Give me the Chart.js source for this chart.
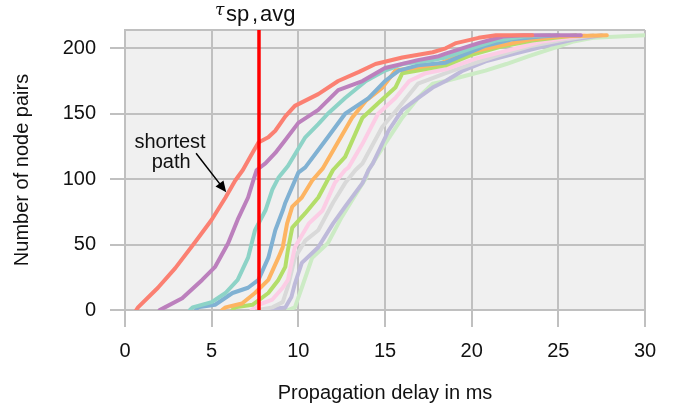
<!DOCTYPE html>
<html>
<head>
<meta charset="utf-8">
<script src="https://cdn.jsdelivr.net/npm/chart.js@4"></script>
<style>
  html, body { margin: 0; padding: 0; background: #fff; }
  #wrap { width: 681px; height: 408px; }
</style>
</head>
<body>
<div id="wrap"><canvas id="myChart" width="681" height="408"></canvas></div>
<script>
// delay (ms) / number of node pairs
const shortestPath = [[0.65,0],[0.75,2],[1.9,17],[2.9,32],[4.05,52],[5.0,69],[5.8,86],[6.36,99],[6.8,107],[7.35,120],[7.7,128],[8.27,132],[8.67,137],[9.25,148],[9.8,156],[11.15,165],[12.3,175],[13.5,182],[14.45,188],[16.0,193],[17.75,197],[18.5,200],[19.1,204],[20.4,208],[21.4,210],[23.5,210]];
const path2 = [[2.0,0],[2.3,2],[3.3,9],[4.45,23],[5.2,33],[5.95,51],[6.5,69],[7.1,86],[7.4,99],[7.6,107],[8.1,112],[8.67,120],[9.25,130],[10,143],[11.15,153],[12.3,168],[13.7,175],[15,185],[16.9,191],[18.1,194],[18.5,196],[20.4,204],[21.8,209],[23,210],[26.3,210]];
const path3 = [[3.75,0],[3.9,2],[5,6],[5.8,13],[6.5,23],[7.1,40],[7.5,61],[8.1,76],[8.5,92],[8.85,101],[9.4,110],[10.4,132],[11.15,142],[11.7,150],[12.7,162],[13.9,175],[15,183],[16,188],[17.75,191],[18.5,193],[20.2,201],[21.4,206],[23,209],[24.5,210]];
const path4 = [[4.1,0],[4.2,2],[5.2,4],[6.2,13],[7.1,17],[7.7,23],[8.27,40],[8.67,61],[9.1,76],[9.25,82],[10,105],[10.4,109],[11.7,132],[12.7,150],[14.05,162],[15,175],[15.8,183],[16.9,187],[18.5,189],[20.8,202],[22.4,207],[24,209],[25,210]];
const path5 = [[5.6,0],[5.8,2],[6.75,5],[7.5,13],[8.27,23],[8.85,40],[9.1,48],[9.35,66],[9.65,79],[10.2,86],[10.8,99],[11.4,108],[12.1,124],[13.1,147],[13.9,160],[14.85,170],[15.6,183],[16.6,185],[18.1,188],[19.5,196],[21.6,202],[23.5,207],[25,209],[27.8,210]];
const path6 = [[6.2,0],[6.35,2],[7.35,4],[8.27,13],[8.85,23],[9.25,33],[9.4,46],[9.65,63],[10.4,74],[11.15,86],[12,107],[12.7,117],[13.7,147],[14.6,158],[15.6,170],[16,181],[16.9,183],[18.5,187],[20,195],[21.6,201],[23.5,206],[26,210]];
const path7 = [[7.3,0],[7.7,4],[8.5,8],[9.1,17],[9.4,23],[9.8,48],[10.6,66],[11.4,76],[12.1,97],[12.7,107],[12.9,109],[13.7,127],[14.6,150],[15.6,162],[16.4,175],[17.35,181],[18.5,184],[20.2,192],[22,198],[24,205],[26.5,210]];
const path8 = [[7.7,0],[8.5,2],[9.1,6],[9.4,18],[9.8,40],[10.4,53],[11.15,61],[12,82],[12.7,97],[13.3,107],[13.7,112],[14.85,140],[15.8,155],[16.9,173],[17.9,178],[18.5,181],[20,188],[21.4,194],[23.5,202],[25.5,207],[27,210]];
const path9 = [[8.0,0],[9.25,2],[9.6,10],[9.8,20],[10.2,36],[11.15,48],[12,66],[12.7,79],[13.7,97],[14.05,107],[14.3,112],[15.2,137],[16,153],[16.9,162],[17.75,170],[18.5,175],[19.5,183],[20.8,190],[22.5,196],[24.3,202],[26,207],[27.5,210]];
const path10 = [[9.4,0],[9.8,2],[10.2,17],[10.8,40],[11.7,51],[12.5,71],[13.1,84],[13.9,101],[14.05,107],[15,127],[16,147],[16.9,162],[17.75,173],[18.5,175],[19.65,179],[20.8,183],[22,188],[23.3,194],[24.9,201],[25.8,205],[27,208],[30,210]];

const seriesList = [shortestPath, path2, path3, path4, path5, path6, path7, path8, path9, path10];
const colors = ["#fb8072", "#bc80bd", "#8dd3c7", "#80b1d3", "#fdb462", "#b3de69", "#fccde5", "#d9d9d9", "#bebada", "#ccebc5"];

const xTicks = [0, 5, 10, 15, 20, 25, 30];
const yTicks = [0, 50, 100, 150, 200];
const tauAvg = 7.73;

const gridColor = "#c0c0c0";
const fontFamily = "'Liberation Sans', Arial, sans-serif";

// plot background, top frame, red line and the labels
const extras = {
  id: "extras",
  beforeDraw(chart) {
    const { ctx, chartArea: a } = chart;
    ctx.save();
    ctx.fillStyle = "#f0f0f0";
    ctx.fillRect(a.left, a.top, a.right - a.left, a.bottom - a.top);
    ctx.restore();
  },
  beforeDatasetsDraw(chart) {
    const { ctx, chartArea: a } = chart;
    ctx.save();
    ctx.strokeStyle = gridColor;
    ctx.lineWidth = 2;
    ctx.beginPath();
    ctx.moveTo(a.left, a.top);
    ctx.lineTo(a.right, a.top);
    ctx.stroke();
    ctx.restore();
  },
  afterDatasetsDraw(chart) {
    const { ctx, chartArea: a, scales } = chart;
    const xs = scales.x, ys = scales.y;
    ctx.save();
    // tau line
    const px = xs.getPixelForValue(tauAvg);
    ctx.strokeStyle = "#ff0000";
    ctx.lineWidth = 3.5;
    ctx.beginPath();
    ctx.moveTo(px, a.top);
    ctx.lineTo(px, a.bottom);
    ctx.stroke();

    ctx.fillStyle = "#111";
    ctx.textBaseline = "alphabetic";
    ctx.textAlign = "left";
    ctx.font = "italic 17px 'DejaVu Serif', serif";
    ctx.fillText("\u03c4", px - 44, 15);
    ctx.font = "22px " + fontFamily;
    ctx.fillText("sp", px - 33, 21);
    ctx.fillText(",", px - 7, 21);
    ctx.fillText("avg", px + 1, 21);

    // shortest path annotation
    ctx.font = "20px " + fontFamily;
    ctx.textAlign = "center";
    ctx.fillText("shortest", xs.getPixelForValue(2.6), ys.getPixelForValue(123.7));
    ctx.fillText("path", xs.getPixelForValue(2.66), ys.getPixelForValue(108.4));

    const x0 = xs.getPixelForValue(4.1), y0 = ys.getPixelForValue(119.8);
    const x1 = xs.getPixelForValue(5.84), y1 = ys.getPixelForValue(90);
    const ang = Math.atan2(y1 - y0, x1 - x0);
    ctx.strokeStyle = "#000";
    ctx.lineWidth = 1.5;
    ctx.beginPath();
    ctx.moveTo(x0, y0);
    ctx.lineTo(x1 - 8 * Math.cos(ang), y1 - 8 * Math.sin(ang));
    ctx.stroke();
    ctx.fillStyle = "#000";
    ctx.beginPath();
    ctx.moveTo(x1, y1);
    ctx.lineTo(x1 - 11 * Math.cos(ang) + 5 * Math.sin(ang), y1 - 11 * Math.sin(ang) - 5 * Math.cos(ang));
    ctx.lineTo(x1 - 11 * Math.cos(ang) - 5 * Math.sin(ang), y1 - 11 * Math.sin(ang) + 5 * Math.cos(ang));
    ctx.closePath();
    ctx.fill();
    ctx.restore();
  }
};

const ctx = document.getElementById("myChart").getContext("2d");

new Chart(ctx, {
  type: "line",
  data: {
    datasets: seriesList.map((s, i) => ({
      data: s.map(p => ({ x: p[0], y: p[1] })),
      borderColor: colors[i],
      borderWidth: 4,
      pointRadius: 0,
      tension: 0,
      fill: false,
      borderJoinStyle: "round",
      borderCapStyle: "round"
    }))
  },
  options: {
    responsive: false,
    animation: false,
    layout: { padding: { top: 30, right: 36, left: 0, bottom: 0 } },
    plugins: {
      legend: { display: false },
      tooltip: { enabled: false }
    },
    scales: {
      x: {
        type: "linear",
        min: 0,
        max: 30,
        afterBuildTicks: (scale) => { scale.ticks = xTicks.map(v => ({ value: v })); },
        afterFit: (scale) => { scale.height = 98; },
        grid: { color: gridColor, lineWidth: 2, tickLength: 17, tickColor: gridColor },
        border: { display: true, color: gridColor, width: 2 },
        ticks: { font: { family: fontFamily, size: 20 }, color: "#111", padding: 12, maxRotation: 0 },
        title: {
          display: true,
          text: "Propagation delay in ms",
          font: { family: fontFamily, size: 20 },
          color: "#111",
          padding: { top: 0, bottom: 3 }
        }
      },
      y: {
        min: 0,
        max: 214,
        afterBuildTicks: (scale) => { scale.ticks = yTicks.map(v => ({ value: v })); },
        afterFit: (scale) => { scale.width = 125; },
        grid: { color: gridColor, lineWidth: 2, tickLength: 15, tickColor: gridColor },
        border: { display: true, color: gridColor, width: 2 },
        ticks: { font: { family: fontFamily, size: 20 }, color: "#111", padding: 14 },
        title: {
          display: true,
          text: "Number of node pairs",
          font: { family: fontFamily, size: 20 },
          color: "#111",
          padding: { top: 10, bottom: 0 }
        }
      }
    }
  },
  plugins: [extras]
});
</script>
</body>
</html>
